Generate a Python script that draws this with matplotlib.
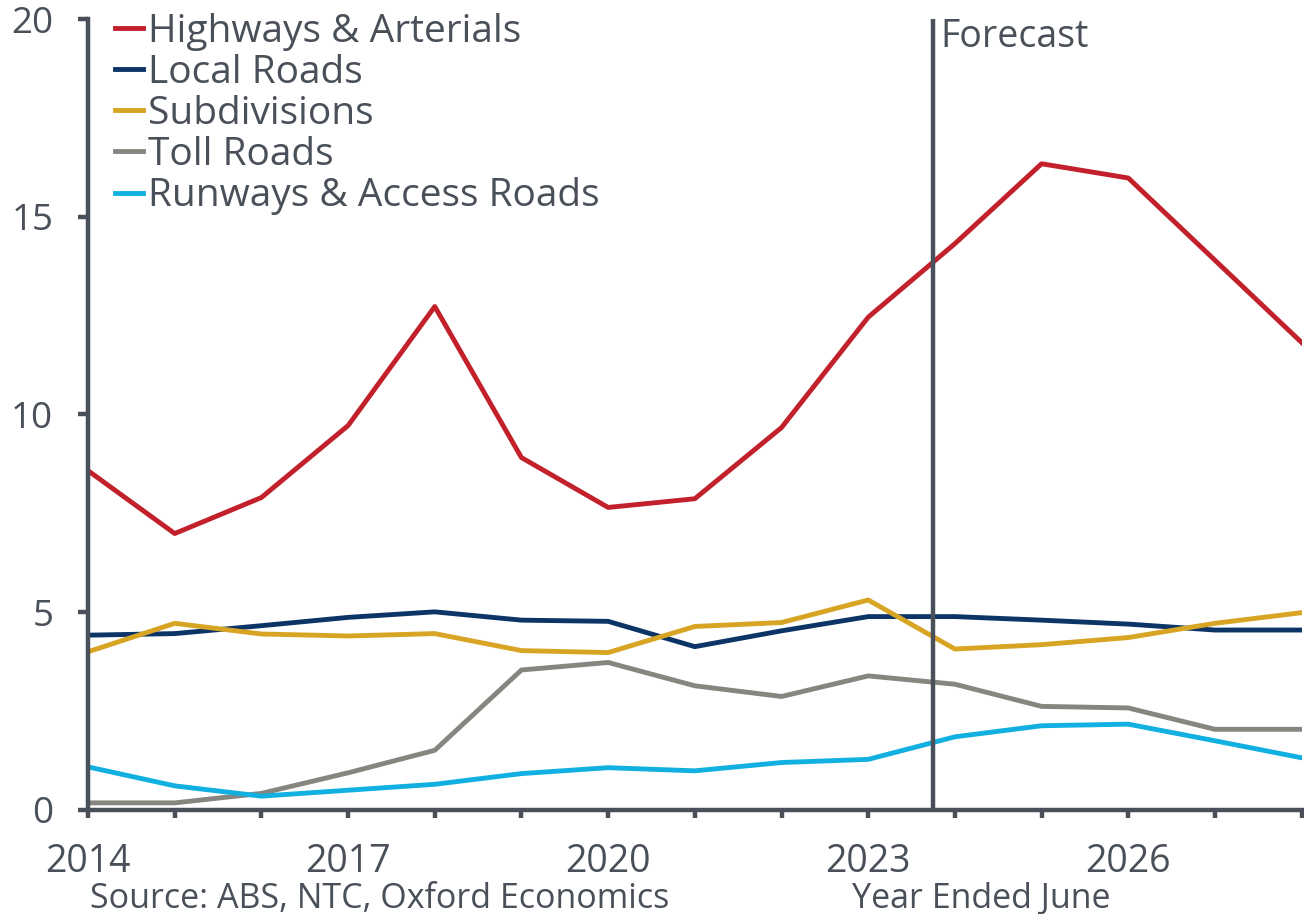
import matplotlib.pyplot as plt

plt.rcParams['font.family'] = ['Open Sans', 'DejaVu Sans']

years = list(range(2014, 2029))
highways = [8.58, 6.99, 7.90, 9.72, 12.73, 8.91, 7.65, 7.87, 9.67, 12.46,
            14.32, 16.34, 15.98, 13.90, 11.82]
local_roads = [4.42, 4.46, 4.66, 4.87, 5.01, 4.80, 4.77, 4.13, 4.53, 4.89,
               4.89, 4.80, 4.70, 4.55, 4.55]
subdivisions = [4.00, 4.72, 4.45, 4.40, 4.46, 4.03, 3.98, 4.64, 4.74, 5.31,
                4.07, 4.18, 4.36, 4.72, 4.99]
toll_roads = [0.18, 0.18, 0.42, 0.94, 1.51, 3.54, 3.73, 3.14, 2.87, 3.39,
              3.18, 2.62, 2.58, 2.04, 2.04]
runways = [1.09, 0.61, 0.35, 0.50, 0.65, 0.92, 1.07, 0.99, 1.20, 1.28,
           1.85, 2.13, 2.17, 1.75, 1.32]

series = [
    ('Highways & Arterials', highways, '#c2202b'),
    ('Local Roads', local_roads, '#0c3466'),
    ('Subdivisions', subdivisions, '#d8a423'),
    ('Toll Roads', toll_roads, '#86857f'),
    ('Runways & Access Roads', runways, '#12b0e0'),
]
forecast_start = 2023.75

axis_col = '#4a5059'
text_col = '#4a5059'

fig = plt.figure(figsize=(13.04, 9.14), dpi=100)
ax = fig.add_axes([0.0675, 0.1138, 0.9307, 0.8654])

for name, vals, col in series:
    ax.plot(years, vals, color=col, lw=3.5, label=name)

# forecast divider
ax.axvline(forecast_start, color=axis_col, lw=3.2)
ax.text(forecast_start + 0.08, 20.03, 'Forecast', fontsize=27, color=text_col,
        va='top', ha='left')

ax.set_xlim(2014, 2028)
ax.set_ylim(0, 20)
ax.set_yticks([0, 5, 10, 15, 20])
ax.set_xticks(years)
ax.set_xticklabels([str(y) if (y - 2014) % 3 == 0 else '' for y in years])

for s in ['top', 'right']:
    ax.spines[s].set_visible(False)
for s in ['left', 'bottom']:
    ax.spines[s].set_color(axis_col)
    ax.spines[s].set_linewidth(3.2)

ax.tick_params(axis='y', colors=axis_col, labelcolor=text_col, labelsize=26.5,
               length=7, width=3.2, pad=18)
ax.tick_params(axis='x', colors=axis_col, labelcolor=text_col, labelsize=27,
               length=6, width=3.2, pad=18)

leg = ax.legend(loc='upper left', bbox_to_anchor=(0.022, 1.008), frameon=False,
                fontsize=28, handlelength=0.72, handletextpad=0.13,
                labelspacing=0.08, borderpad=0, borderaxespad=0)
for t in leg.get_texts():
    t.set_color(text_col)

fig.text(0.069, 0.0066, 'Source: ABS, NTC, Oxford Economics', fontsize=24.5,
         color=text_col, va='baseline', ha='left')
fig.text(0.653, 0.0066, 'Year Ended June', fontsize=24.5,
         color=text_col, va='baseline', ha='left')

fig.savefig('out.png', dpi=100)
